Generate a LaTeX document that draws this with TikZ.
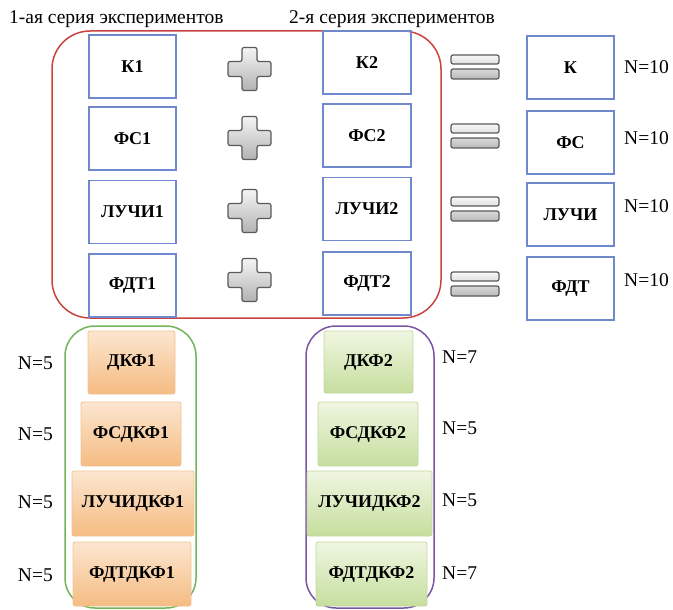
\documentclass[tikz,border=0pt]{standalone}
\usepackage{fontspec}
\setmainfont{Liberation Serif}
\definecolor{boxblue}{HTML}{7088CC}
\definecolor{redframe}{HTML}{C8453F}
\definecolor{greenframe}{HTML}{72B45A}
\definecolor{purpleframe}{HTML}{7A55A5}
\definecolor{orangetop}{HTML}{FCE6D0}
\definecolor{orangebot}{HTML}{F5BC82}
\definecolor{orangeline}{HTML}{EFC396}
\definecolor{greentop}{HTML}{EFF6E1}
\definecolor{greenbot}{HTML}{C6DE9E}
\definecolor{greenline}{HTML}{C2D89E}
\definecolor{signline}{HTML}{5A5A5A}
\tikzset{
  bluebox/.style={draw=boxblue, line width=1.3pt, minimum width=87pt, minimum height=63pt,
    inner sep=0pt, font=\bfseries\fontsize{18}{21}\selectfont},
  orangebox/.style={draw=orangeline, line width=0.8pt, rounded corners=2pt,
    top color=orangetop, bottom color=orangebot, inner sep=0pt,
    font=\bfseries\fontsize{18}{21}\selectfont},
  greenbox/.style={draw=greenline, line width=0.8pt, rounded corners=2pt,
    top color=greentop, bottom color=greenbot, inner sep=0pt,
    font=\bfseries\fontsize{18}{21}\selectfont},
  nlabel/.style={inner sep=0pt, font=\fontsize{19.5}{22}\selectfont},
  titlelabel/.style={inner sep=0pt, font=\fontsize{19.5}{22}\selectfont},
  frame/.style={line width=1.5pt, rounded corners=#1},
  plusshape/.style={draw=signline, line width=1.2pt, rounded corners=2pt,
    top color=gray!8, bottom color=gray!60},
  eqtop/.style={draw=signline, line width=1.2pt, rounded corners=2pt,
    top color=gray!5, bottom color=gray!25},
  eqbot/.style={draw=signline, line width=1.2pt, rounded corners=2pt,
    top color=gray!30, bottom color=gray!55},
}
\newcommand\plusat[2]{%
  \path[plusshape, shift={(#1,#2)}]
    (-7.5,21.5) -- (7.5,21.5) -- (7.5,7.5) -- (21.5,7.5) -- (21.5,-7.5) -- (7.5,-7.5)
    -- (7.5,-21.5) -- (-7.5,-21.5) -- (-7.5,-7.5) -- (-21.5,-7.5) -- (-21.5,7.5)
    -- (-7.5,7.5) -- cycle;}
\newcommand\equalat[3]{% x, top of upper bar, top of lower bar
  \path[eqtop] (451,-#2) rectangle (499,-#2-9);
  \path[eqbot] (451,-#3) rectangle (499,-#3-10);}
\begin{document}
\begin{tikzpicture}[x=1pt,y=1pt]
\useasboundingbox (0,0) rectangle (673,-610);

% titles
\node[titlelabel, anchor=west] (t1) at (9,-19) {1-ая серия экспериментов};
\node[titlelabel, anchor=west] (t2) at (289,-19) {2-я серия экспериментов};

% red frame
\draw[frame=38pt, draw=redframe] (52,-31) rectangle (441,-318);

% column 1
\node[bluebox] (k1) at (132.5,-66.5) {К1};
\node[bluebox] (fs1) at (132.5,-138.5) {ФС1};
\node[bluebox] (l1) at (132.5,-212) {ЛУЧИ1};
\node[bluebox] (f1) at (132.5,-285.5) {ФДТ1};

% column 2
\node[bluebox, minimum width=88pt] (k2) at (367,-62.5) {К2};
\node[bluebox, minimum width=88pt] (fs2) at (367,-135.5) {ФС2};
\node[bluebox, minimum width=88pt] (l2) at (367,-209) {ЛУЧИ2};
\node[bluebox, minimum width=88pt] (f2) at (367,-283.5) {ФДТ2};

% result column
\node[bluebox] (k) at (570.5,-67.5) {К};
\node[bluebox] (fs) at (570.5,-142.5) {ФС};
\node[bluebox] (l) at (570.5,-214.5) {ЛУЧИ};
\node[bluebox] (f) at (570.5,-288.5) {ФДТ};

\node[nlabel, anchor=west] (nk) at (624,-67) {N=10};
\node[nlabel, anchor=west] (nfs) at (624,-138) {N=10};
\node[nlabel, anchor=west] (nl) at (624,-206) {N=10};
\node[nlabel, anchor=west] (nf) at (624,-280) {N=10};

% plus signs
\plusat{249.5}{-69}
\plusat{249.5}{-138}
\plusat{249.5}{-211}
\plusat{249.5}{-280}

% equal signs
\equalat{451}{55}{69}
\equalat{451}{124}{138}
\equalat{451}{197}{211}
\equalat{451}{272}{286}

% bottom-left group
\draw[frame=30pt, draw=greenframe] (65,-326) rectangle (196,-608);
\node[orangebox, minimum width=87pt, minimum height=63pt] (d1) at (131.5,-362.5) {ДКФ1};
\node[orangebox, minimum width=100pt, minimum height=64pt] (fd1) at (131,-434) {ФСДКФ1};
\node[orangebox, minimum width=122pt, minimum height=65pt] (ld1) at (133,-503.5) {ЛУЧИДКФ1};
\node[orangebox, minimum width=118pt, minimum height=64pt] (td1) at (132,-574) {ФДТДКФ1};

\node[nlabel, anchor=east] (n1a) at (53,-363) {N=5};
\node[nlabel, anchor=east] (n1b) at (53,-434) {N=5};
\node[nlabel, anchor=east] (n1c) at (53,-502) {N=5};
\node[nlabel, anchor=east] (n1d) at (53,-575) {N=5};

% bottom-right group
\draw[frame=30pt, draw=purpleframe] (306,-326) rectangle (434,-608);
\node[greenbox, minimum width=89pt, minimum height=62pt] (d2) at (368.5,-362) {ДКФ2};
\node[greenbox, minimum width=100pt, minimum height=64pt] (fd2) at (368,-434) {ФСДКФ2};
\node[greenbox, minimum width=125pt, minimum height=65pt] (ld2) at (369.5,-503.5) {ЛУЧИДКФ2};
\node[greenbox, minimum width=111pt, minimum height=64pt] (td2) at (371.5,-574) {ФДТДКФ2};

\node[nlabel, anchor=west] (n2a) at (442,-357) {N=7};
\node[nlabel, anchor=west] (n2b) at (442,-428) {N=5};
\node[nlabel, anchor=west] (n2c) at (442,-500) {N=5};
\node[nlabel, anchor=west] (n2d) at (442,-573) {N=7};
\end{tikzpicture}
\end{document}
